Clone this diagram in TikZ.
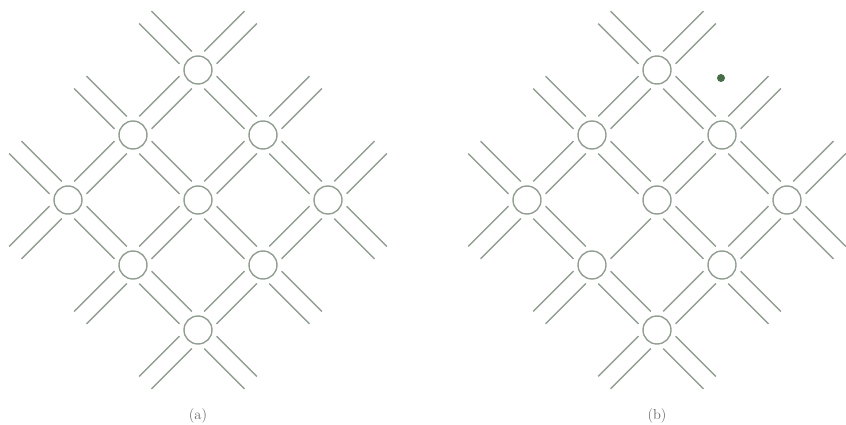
\documentclass[tikz,border=0pt]{standalone}
\usetikzlibrary{calc}
\definecolor{lc}{RGB}{146,158,146}
\definecolor{dotc}{RGB}{72,108,72}
\definecolor{txtc}{RGB}{100,104,100}
\tikzset{
  site/.style={circle, draw=lc, line width=1.4pt, minimum size=28pt, inner sep=0pt, outer sep=0pt},
  sline/.style={draw=lc, line width=1.4pt},
  caption/.style={text=txtc, font=\fontsize{14.5}{16}\selectfont, inner sep=0pt}
}
% one line of a bond, on side #3 (90 or -90) of the axis from #1 to #2
\newcommand\bondline[3]{%
  \draw[sline] ($(#1)!17.5pt!(#2)!8.7pt!#3:(#2)$) -- ($(#2)!17.5pt!(#1)!8.7pt!-#3:(#1)$);}
% double bond between two named points
\newcommand\bond[2]{\bondline{#1}{#2}{90}\bondline{#1}{#2}{-90}}
\newcommand\drawlattice[2]{%
  \node[site] (#1T)  at (#2,70) {};
  \node[site] (#1UL) at ({#2-65},135) {};
  \node[site] (#1UR) at ({#2+65},135) {};
  \node[site] (#1L)  at ({#2-130},200) {};
  \node[site] (#1C)  at (#2,200) {};
  \node[site] (#1R)  at ({#2+130},200) {};
  \node[site] (#1LL) at ({#2-65},265) {};
  \node[site] (#1LR) at ({#2+65},265) {};
  \node[site] (#1B)  at (#2,330) {};
  \coordinate (#1vTa) at ({#2-65},5);
  \coordinate (#1vTb) at ({#2+65},5);
  \coordinate (#1vUL) at ({#2-130},70);
  \coordinate (#1vUR) at ({#2+130},70);
  \coordinate (#1vLa) at ({#2-195},135);
  \coordinate (#1vLb) at ({#2-195},265);
  \coordinate (#1vRa) at ({#2+195},135);
  \coordinate (#1vRb) at ({#2+195},265);
  \coordinate (#1vLL) at ({#2-130},330);
  \coordinate (#1vLR) at ({#2+130},330);
  \coordinate (#1vBa) at ({#2-65},395);
  \coordinate (#1vBb) at ({#2+65},395);
  \bond{#1T}{#1vTa}
  \bond{#1T}{#1vTb}
  \bond{#1UL}{#1vUL}
  \bond{#1UR}{#1vUR}
  \bond{#1L}{#1vLa}
  \bond{#1L}{#1vLb}
  \bond{#1R}{#1vRa}
  \bond{#1R}{#1vRb}
  \bond{#1LL}{#1vLL}
  \bond{#1LR}{#1vLR}
  \bond{#1B}{#1vBa}
  \bond{#1B}{#1vBb}
  \bond{#1T}{#1UL}
  \bond{#1T}{#1UR}
  \bond{#1UL}{#1L}
  \bond{#1UL}{#1C}
  \bond{#1UR}{#1C}
  \bond{#1UR}{#1R}
  \bond{#1L}{#1LL}
  \bond{#1C}{#1LR}
  \bond{#1R}{#1LR}
  \bond{#1LL}{#1B}
  \bond{#1LR}{#1B}
}
\begin{document}
\begin{tikzpicture}[x=1pt, y=-1pt]
  \useasboundingbox (0,0) rectangle (846,425);
  % panel (a)
  \drawlattice{a}{198}
  \bond{aC}{aLL}
  \node[caption] (capa) at (198,416) {(a)};
  % panel (b)
  \drawlattice{b}{657}
  \bondline{bC}{bLL}{90}
  \node[circle, fill=dotc, inner sep=0pt, minimum size=8pt] (dot) at (721,78) {};
  \node[caption] (capb) at (657,416) {(b)};
\end{tikzpicture}
\end{document}
